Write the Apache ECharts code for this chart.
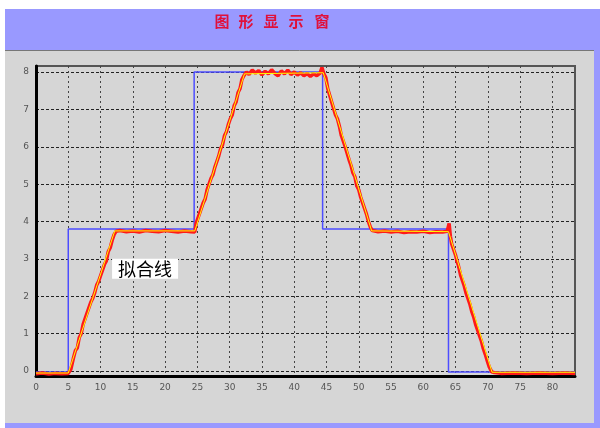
<!DOCTYPE html>
<html><head><meta charset="utf-8">
<script src="https://cdn.jsdelivr.net/npm/echarts@6/dist/echarts.min.js"></script>
<style>html,body{margin:0;padding:0;background:#fff;}#c{width:600px;height:428px;}</style>
</head><body><div id="c"></div>
<script>
// Tick labels
var xTicks = [0,5,10,15,20,25,30,35,40,45,50,55,60,65,70,75,80];
var yTicks = [0,1,2,3,4,5,6,7,8];
var titleChars = ['图','形','显','示','窗'];
var fitLabel = '拟合线';

// Setpoint (blue step line)
var spX = [0, 5.0, 5.0, 24.5, 24.5, 44.4, 44.4, 63.9, 63.9, 83.5];
var spY = [-0.02, -0.02, 3.8, 3.8, 8.0, 8.0, 3.8, 3.8, -0.02, -0.02];

// Fitted line (yellow)
var fitX = [0, 5.0, 12.2, 24.6, 32.3, 44.5, 52.0, 63.9, 70.65, 83.5];
var fitY = [-0.05, -0.05, 3.75, 3.75, 7.95, 7.98, 3.75, 3.73, -0.03, -0.03];

// Measured (red, noisy)
var msX = [0,1,2,3,4,5,5.3,
  5.4,5.8,6.1,6.4,6.7,7.0,7.3,7.6,7.9,8.2,8.5,8.8,9.1,9.4,9.7,10.0,10.3,10.6,10.9,11.2,11.5,11.8,12.1,12.4,
  13,14,15,16,17,18,19,20,21,22,23,24,24.6,
  24.8,25.0,25.3,25.6,25.9,26.2,26.5,26.8,27.1,27.4,27.7,28.0,28.3,28.6,28.9,29.2,29.5,29.8,30.1,30.4,30.7,31.0,31.3,31.6,31.9,32.2,
  32.6,33.0,33.5,34,34.5,35,35.5,36,36.5,37,37.5,38,38.5,39,39.5,40,40.5,41,41.5,42,42.5,43,43.5,44,44.3,44.4,
  44.6,44.9,45.2,45.5,45.8,46.1,46.4,46.7,47.0,47.3,47.6,47.9,48.2,48.5,48.8,49.1,49.4,49.7,50.0,50.3,50.6,50.9,51.2,51.5,51.8,52.1,
  53,54,55,56,57,58,59,60,61,62,63,63.7,64.0,
  64.2,64.4,64.6,64.8,65.0,65.2,65.4,65.6,65.8,66.0,66.3,66.6,66.9,67.2,67.5,67.8,68.1,68.4,68.7,69.0,69.3,69.6,69.9,70.2,70.6,
  71,72,74,76,78,80,82,83.5];
var msY = [-0.07,-0.05,-0.08,-0.06,-0.07,-0.06,-0.09,
  0.05,0.35,0.55,0.62,0.9,1.0,1.25,1.3,1.55,1.6,1.85,1.95,2.1,2.3,2.4,2.55,2.7,2.85,2.95,3.2,3.3,3.5,3.65,3.74,
  3.76,3.73,3.75,3.72,3.76,3.74,3.73,3.76,3.74,3.72,3.75,3.73,3.72,
  3.95,3.9,4.2,4.25,4.5,4.6,4.85,4.9,5.15,5.25,5.45,5.6,5.75,5.95,6.05,6.3,6.4,6.6,6.75,6.85,7.1,7.2,7.45,7.55,7.8,7.9,
  8.0,7.93,8.05,7.97,8.04,7.92,8.02,7.95,8.06,7.96,7.9,8.03,7.95,8.05,7.93,8.0,7.92,7.98,7.9,7.96,7.88,7.95,7.9,7.97,8.12,8.15,
  7.95,7.85,7.55,7.5,7.2,7.15,6.85,6.75,6.55,6.3,6.25,6.0,5.95,5.65,5.5,5.3,5.2,4.95,4.85,4.65,4.5,4.35,4.2,4.0,3.85,3.76,
  3.73,3.75,3.72,3.74,3.71,3.73,3.72,3.74,3.71,3.73,3.72,3.74,3.95,
  3.6,3.4,3.3,3.2,3.1,2.95,2.85,2.7,2.55,2.45,2.3,2.1,1.95,1.8,1.6,1.45,1.25,1.1,0.95,0.8,0.6,0.45,0.28,0.12,-0.02,
  -0.04,-0.06,-0.05,-0.06,-0.05,-0.06,-0.05,-0.06];

function pairs(xs, ys){ return xs.map(function(x,i){ return [x, ys[i]]; }); }

var chart = echarts.init(document.getElementById('c'), null, {renderer:'canvas'});

var gridL = 36, gridT = 66, gridR = 25, gridB = 52;

var bgGraphics = [
  {type:'rect', shape:{x:5,y:9,width:595,height:419}, style:{fill:'#9999ff'}, z:-10, silent:true},
  {type:'rect', shape:{x:5,y:50,width:589,height:373}, style:{fill:'#d6d6d6'}, z:-9, silent:true},
  {type:'line', shape:{x1:5,y1:50.5,x2:594,y2:50.5}, style:{stroke:'#777',lineWidth:1}, z:-8, silent:true}
];
var tx = [222, 246, 271, 296, 322];
titleChars.forEach(function(ch, i){
  bgGraphics.push({type:'text', x:tx[i], y:21, z:5, silent:true,
    style:{text:ch, fill:'#e0103a', font:'bold 15px "Noto Sans CJK SC"', align:'center', verticalAlign:'middle'}});
});

var option = {
  animation:false,
  backgroundColor:'transparent',
  grid:{left:gridL, top:gridT, right:gridR, bottom:gridB, show:true, borderColor:'#555', borderWidth:2, backgroundColor:'transparent'},
  xAxis:{type:'value', min:0, max:83.5,
    axisLine:{show:true, onZero:false, lineStyle:{color:'#000', width:3}},
    axisTick:{show:false, customValues:xTicks},
    axisLabel:{customValues:xTicks, color:'#555', fontSize:9, fontFamily:'DejaVu Sans', margin:7},
    splitLine:{show:true, lineStyle:{color:'#444', type:[2,3], width:1}}
  },
  yAxis:{type:'value', min:-0.13, max:8.16,
    axisLine:{show:true, onZero:false, lineStyle:{color:'#000', width:3}},
    axisTick:{show:false, customValues:yTicks},
    axisLabel:{customValues:yTicks, color:'#555', fontSize:9, fontFamily:'DejaVu Sans', margin:7},
    splitLine:{show:true, lineStyle:{color:'#222', type:[3,2], width:1}}
  },
  graphic: bgGraphics,
  series:[
    {type:'line', name:'setpoint', data:pairs(spX, spY), symbol:'none', z:2,
      lineStyle:{color:'#4d4dff', width:1.5}},
    {type:'line', name:'measured', data:pairs(msX, msY), symbol:'none', z:3,
      lineStyle:{color:'#ff1a1a', width:3.5}},
    {type:'line', name:'fit', data:pairs(fitX, fitY), symbol:'none', z:4,
      lineStyle:{color:'#ffff00', width:1}}
  ]
};
chart.setOption(option);

var p = chart.convertToPixel({gridIndex:0}, [16.9, 2.74]);
bgGraphics.push({type:'text', x:p[0], y:p[1], z:10, silent:true,
  style:{text:fitLabel, fill:'#000', font:'18px "Noto Sans CJK SC"', align:'center', verticalAlign:'middle',
    backgroundColor:'#fff', padding:[1,6,1,6]}});
chart.setOption({graphic: bgGraphics}, {replaceMerge:['graphic']});
</script></body></html>
